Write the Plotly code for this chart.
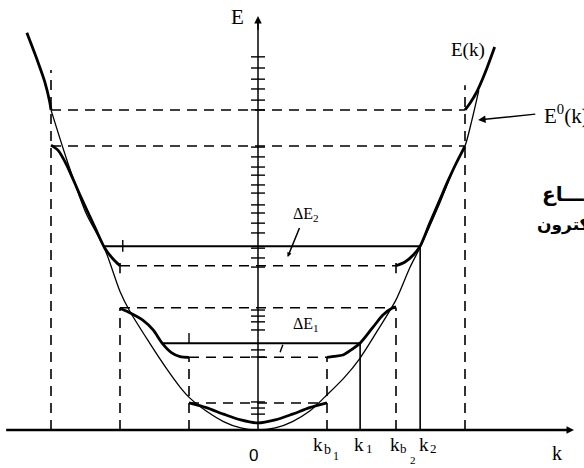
import plotly.graph_objects as go

# ---------------------------------------------------------------------------
# Data: wave number k in units of the first zone boundary, energy E in
# arbitrary units.
# ---------------------------------------------------------------------------
K_BOUND = [1.0, 2.0, 3.0]            # k_b1, k_b2, k_b3
GAP_LOW = [0.80, 3.62, 8.40]         # top of the lower band at each boundary
GAP_HIGH = [2.15, 4.86, 9.47]        # bottom of the upper band at each boundary
GUIDE_TOP_LEFT = [2.15, 3.62, 10.65]   # upper end of the dashed verticals, k < 0
GUIDE_TOP_RIGHT = [2.15, 3.62, 10.20]  # upper end of the dashed verticals, k > 0

# filled levels reaching k1 and k2
K_LEVEL_RIGHT = [1.48, 2.35]
K_LEVEL_LEFT = [-1.39, -2.22]
E_LEVEL = [2.57, 5.44]

# free-electron parabola E0(k)
E0_K = [-3.00, -2.77, -2.50, -2.22, -2.00, -1.86, -1.57, -1.32, -1.13,
        -0.99, -0.75, -0.50, -0.25, 0.00, 0.25, 0.50, 0.75, 0.97, 1.25, 1.48,
        1.75, 2.00, 2.20, 2.35, 2.60, 2.86, 3.00, 3.10, 3.20]
E0_E = [9.47, 7.99, 6.45, 5.35, 4.10, 3.52, 2.57, 1.80, 1.27,
        0.95, 0.56, 0.25, 0.06, 0.00, 0.06, 0.25, 0.56, 0.98, 1.55, 2.13,
        3.00, 3.85, 4.80, 5.41, 6.55, 7.84, 8.40, 9.17, 10.05]

# bands of E(k)
BAND1_K = [-1.00, -0.75, -0.50, -0.25, 0.00, 0.25, 0.50, 0.75, 1.00]
BAND1_E = [0.80, 0.66, 0.47, 0.30, 0.21, 0.30, 0.47, 0.66, 0.80]

BAND2L_K = [-2.00, -1.88, -1.67, -1.52, -1.39, -1.25, -1.13, -1.00]
BAND2L_E = [3.60, 3.49, 3.25, 2.96, 2.57, 2.28, 2.17, 2.15]
BAND2R_K = [1.00, 1.10, 1.23, 1.35, 1.48, 1.67, 1.81, 1.94, 2.00]
BAND2R_E = [2.15, 2.18, 2.22, 2.37, 2.57, 3.05, 3.40, 3.60, 3.64]

BAND3L_K = [-3.00, -2.90, -2.78, -2.58, -2.36, -2.22, -2.10, -2.00]
BAND3L_E = [8.43, 8.28, 7.87, 6.95, 5.98, 5.38, 5.06, 4.86]
BAND3R_K = [2.00, 2.13, 2.25, 2.35, 2.49, 2.64, 2.74, 2.86, 3.00]
BAND3R_E = [4.86, 4.97, 5.18, 5.44, 6.12, 6.83, 7.31, 7.84, 8.40]

BAND4L_K = [-3.00, -3.02, -3.09, -3.19, -3.35]
BAND4L_E = [9.47, 9.72, 10.30, 10.89, 11.75]
BAND4R_K = [3.00, 3.07, 3.17, 3.29, 3.43]
BAND4R_E = [9.47, 9.66, 10.00, 10.56, 11.33]

# hatch marks along the energy axis
AXIS_TICKS_E = [11.04, 10.71, 10.38, 10.09, 9.76, 9.47, 8.37, 8.08, 7.78, 7.54,
                7.25, 7.01, 6.66, 6.42, 6.12, 5.83, 5.38, 5.09, 4.82, 3.55,
                3.37, 3.20, 2.96, 2.37, 2.16, 0.83, 0.65, 0.47]

# ---------------------------------------------------------------------------
# Canvas geometry (origin of the k/E axes on the page and the scales)
# ---------------------------------------------------------------------------
W, H = 584, 468
X0, Y0 = 258.0, 430.0
SX, SY = 69.0, 33.8
x_range = [-X0 / SX, (W - X0) / SX]
y_range = [-(H - Y0) / SY, Y0 / SY]

INK = "black"
SERIF = "Liberation Serif"
DASH = "10px,7px"

fig = go.Figure()

# free-electron parabola
fig.add_trace(go.Scatter(
    x=E0_K, y=E0_E, mode="lines",
    line=dict(color=INK, width=1.3, shape="spline", smoothing=0.8),
    hoverinfo="skip"))

# E(k) branches
for bk, be in [(BAND1_K, BAND1_E), (BAND2L_K, BAND2L_E), (BAND2R_K, BAND2R_E),
               (BAND3L_K, BAND3L_E), (BAND3R_K, BAND3R_E),
               (BAND4L_K, BAND4L_E), (BAND4R_K, BAND4R_E)]:
    fig.add_trace(go.Scatter(
        x=bk, y=be, mode="lines",
        line=dict(color=INK, width=2.8, shape="spline", smoothing=0.8),
        hoverinfo="skip"))

# hatch marks on the E axis
fig.add_trace(go.Scatter(
    x=[0.0] * len(AXIS_TICKS_E), y=AXIS_TICKS_E, mode="markers",
    marker=dict(symbol="line-ew", size=10, color=INK,
                line=dict(width=1.4, color=INK)),
    hoverinfo="skip"))

shapes = []


def seg(x0, y0, x1, y1, width=1.5, dash=None):
    d = dict(color=INK, width=width)
    if dash:
        d["dash"] = dash
    shapes.append(dict(type="line", xref="x", yref="y",
                       x0=x0, y0=y0, x1=x1, y1=y1, line=d, layer="below"))


# dashed gap edges
for kb, lo, hi in zip(K_BOUND, GAP_LOW, GAP_HIGH):
    seg(-kb, lo, kb, lo, 1.5, DASH)
    seg(-kb, hi, kb, hi, 1.5, DASH)

# dashed zone-boundary verticals
for kb, tl, tr in zip(K_BOUND, GUIDE_TOP_LEFT, GUIDE_TOP_RIGHT):
    seg(-kb, 0, -kb, tl, 1.6, DASH)
    seg(kb, 0, kb, tr, 1.6, DASH)

# short strokes where the third band starts at +-k_b2
seg(-K_BOUND[1], GAP_HIGH[1] - 0.22, -K_BOUND[1], GAP_HIGH[1] + 0.08, 1.6)
seg(K_BOUND[1], GAP_HIGH[1] - 0.22, K_BOUND[1], GAP_HIGH[1] + 0.08, 1.6)

# filled levels and their k markers
for kl, kr, e in zip(K_LEVEL_LEFT, K_LEVEL_RIGHT, E_LEVEL):
    seg(kl, e, kr, e, 2.0)
    seg(kr, 0, kr, e, 1.6)
seg(-K_BOUND[0], E_LEVEL[0], -K_BOUND[0], E_LEVEL[0] + 0.30, 1.4)
seg(-1.96, E_LEVEL[1] - 0.17, -1.96, E_LEVEL[1] + 0.18, 1.4)

# E axis and k axis
seg(0, 0, 0, 12.05, 1.5)
seg(-3.65, 0, 4.50, 0, 2.7)

# small pointer under Delta E1
seg(0.36, 2.52, 0.32, 2.30, 1.4)

ann = []


def text(x, y, s, size, family=SERIF, xanchor="center", weight="normal"):
    ann.append(dict(x=x, y=y, xref="x", yref="y", text=s, showarrow=False,
                    xanchor=xanchor, yanchor="middle",
                    font=dict(family=family, size=size, color=INK,
                              weight=weight)))


def arrow(x, y, ax, ay, width=1.5, head=2, size=1.0):
    ann.append(dict(x=x, y=y, ax=ax, ay=ay, xref="x", yref="y",
                    axref="x", ayref="y", text="", showarrow=True,
                    arrowhead=head, arrowsize=size, arrowwidth=width,
                    arrowcolor=INK))


# axis arrowheads
arrow(0, 12.25, 0, 11.8, 1.5, 2, 1.0)
arrow(4.58, 0, 4.30, 0, 1.5, 2, 1.0)

# axis labels
text(-0.29, 12.22, "E", 21)
text(4.33, -0.68, "k", 20)
text(-0.07, -0.76, "0", 17, family="Liberation Sans")

# k tick labels
text(0.87, -0.44, "k", 19)
text(1.01, -0.58, "b", 14)
text(1.13, -0.78, "1", 12)
text(1.46, -0.44, "k", 19)
text(1.61, -0.55, "1", 13)
text(1.99, -0.44, "k", 19)
text(2.11, -0.56, "b", 13)
text(2.25, -0.90, "2", 11)
text(2.41, -0.44, "k", 19)
text(2.55, -0.55, "2", 13)

# curve labels
text(3.04, 11.24, "E(k)", 19)
text(4.12, 9.32, "E<sup>0</sup>(k)", 21, xanchor="left")
arrow(3.19, 9.17, 4.04, 9.35, 1.5, 2, 1.0)

# gap labels
text(0.70, 3.11, "ΔE<sub>1</sub>", 16)
text(0.69, 6.39, "ΔE<sub>2</sub>", 16)
arrow(0.43, 5.12, 0.61, 6.02, 1.5, 2, 0.6)

# Arabic caption running off the right edge
text(4.09, 6.98, "اتســـاع", 20, family="DejaVu Sans", xanchor="left",
     weight="bold")
text(4.01, 6.07, "الإلكترون", 17, family="DejaVu Sans", xanchor="left",
     weight="bold")

fig.update_layout(
    width=W, height=H,
    margin=dict(l=0, r=0, t=0, b=0),
    paper_bgcolor="white", plot_bgcolor="white",
    showlegend=False,
    xaxis=dict(range=x_range, visible=False, fixedrange=True),
    yaxis=dict(range=y_range, visible=False, fixedrange=True),
    shapes=shapes, annotations=ann,
)

fig.write_html("out.html")
